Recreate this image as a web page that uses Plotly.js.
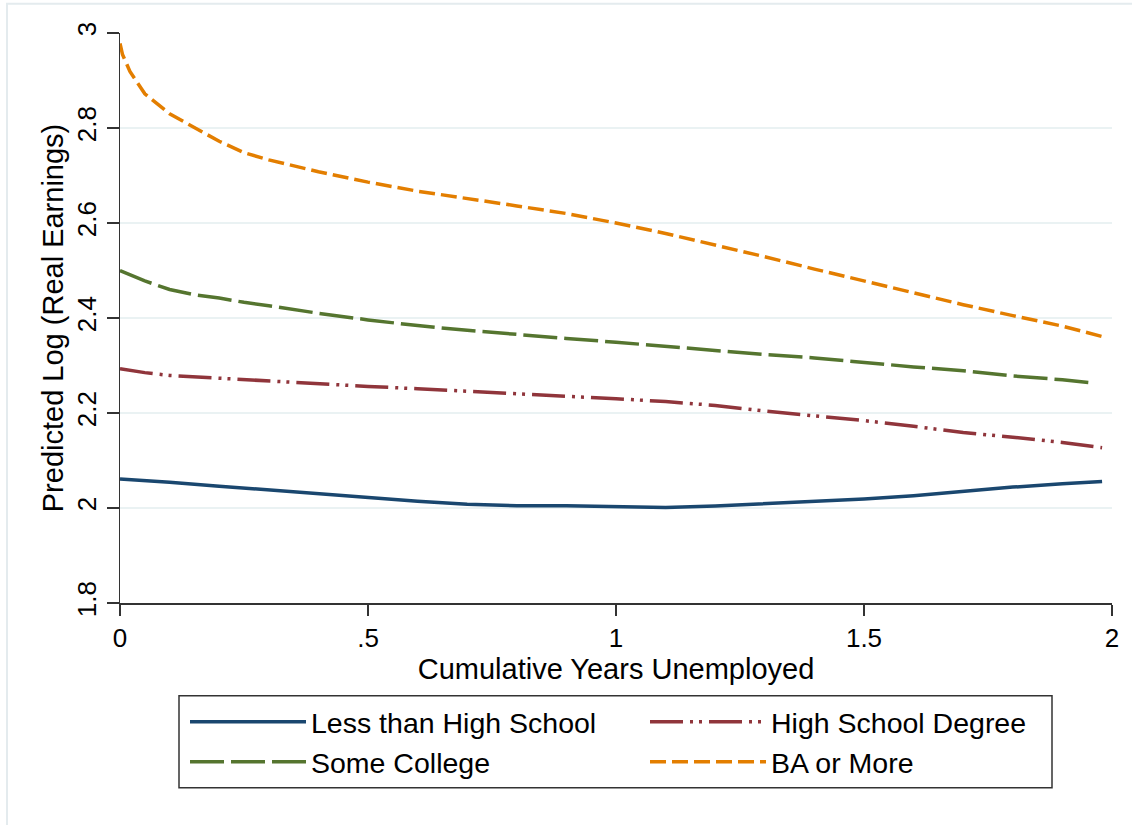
<!DOCTYPE html>
<html>
<head>
<meta charset="utf-8">
<script src="https://cdn.plot.ly/plotly-3.0.1.min.js"></script>
<style>
  html, body { margin: 0; padding: 0; background: #ffffff; }
  #chart { width: 1132px; height: 825px; }
</style>
</head>
<body>
<div id="chart"></div>
<script>
// ---- Data ----
var seriesNames = ["Less than High School", "High School Degree", "Some College", "BA or More"];

var xLess = [0, 0.05, 0.1, 0.2, 0.3, 0.4, 0.5, 0.6, 0.7, 0.8, 0.9, 1.0, 1.1, 1.2, 1.3, 1.4, 1.5, 1.6, 1.7, 1.8, 1.9, 1.98];
var yLess = [2.061, 2.058, 2.054, 2.046, 2.038, 2.030, 2.022, 2.014, 2.008, 2.005, 2.005, 2.003, 2.001, 2.004, 2.009, 2.014, 2.019, 2.026, 2.035, 2.044, 2.051, 2.056];

var xHS = [0, 0.05, 0.1, 0.2, 0.3, 0.4, 0.5, 0.6, 0.7, 0.8, 0.9, 1.0, 1.1, 1.2, 1.3, 1.4, 1.5, 1.6, 1.7, 1.8, 1.9, 1.98];
var yHS = [2.293, 2.285, 2.279, 2.273, 2.267, 2.261, 2.256, 2.251, 2.246, 2.241, 2.235, 2.230, 2.224, 2.216, 2.204, 2.194, 2.184, 2.172, 2.159, 2.149, 2.138, 2.127];

var xSome = [0, 0.05, 0.1, 0.15, 0.2, 0.25, 0.3, 0.4, 0.5, 0.6, 0.7, 0.8, 0.9, 1.0, 1.1, 1.2, 1.3, 1.4, 1.5, 1.6, 1.7, 1.8, 1.9, 1.962];
var ySome = [2.500, 2.478, 2.460, 2.449, 2.442, 2.433, 2.426, 2.410, 2.396, 2.384, 2.374, 2.365, 2.357, 2.349, 2.340, 2.332, 2.323, 2.316, 2.306, 2.297, 2.289, 2.278, 2.270, 2.263];

var xBA = [0, 0.005, 0.02, 0.05, 0.1, 0.15, 0.2, 0.25, 0.3, 0.4, 0.5, 0.6, 0.7, 0.8, 0.9, 1.0, 1.1, 1.2, 1.3, 1.4, 1.5, 1.6, 1.7, 1.8, 1.9, 1.98];
var yBA = [2.978, 2.955, 2.919, 2.872, 2.830, 2.800, 2.772, 2.748, 2.733, 2.708, 2.686, 2.667, 2.652, 2.636, 2.620, 2.600, 2.578, 2.554, 2.529, 2.503, 2.478, 2.453, 2.428, 2.405, 2.383, 2.361];

var xTickVals = [0, 0.5, 1, 1.5, 2];
var xTickText = ["0", ".5", "1", "1.5", "2"];
var yTickVals = [1.8, 2.0, 2.2, 2.4, 2.6, 2.8, 3.0];
var yTickText = ["1.8", "2", "2.2", "2.4", "2.6", "2.8", "3"];

var xTitle = "Cumulative Years Unemployed";
var yTitle = "Predicted Log (Real Earnings)";

// ---- Styles ----
var FONT = "Liberation Sans, Arial, Helvetica, sans-serif";
var LW = 3.5;

var traces = [
  { x: xLess, y: yLess, name: seriesNames[0], type: "scatter", mode: "lines",
    line: { color: "#1a476f", width: LW, dash: "solid" } },
  { x: xHS, y: yHS, name: seriesNames[1], type: "scatter", mode: "lines",
    line: { color: "#90353b", width: LW, dash: "33px,7px,3px,6px,3px,7px" } },
  { x: xSome, y: ySome, name: seriesNames[2], type: "scatter", mode: "lines",
    line: { color: "#55752f", width: LW, dash: "34px,7px" } },
  { x: xBA, y: yBA, name: seriesNames[3], type: "scatter", mode: "lines",
    line: { color: "#e37e00", width: LW, dash: "16px,6px" } }
];

var plotL = 120, plotR = 1112, plotT = 33.3, plotB = 603.3;
var pw = plotR - plotL, ph = plotB - plotT;
function px2paperX(p) { return (p - plotL) / pw; }
function px2paperY(p) { return (plotB - p) / ph; }

var ITEMW = 116;
var TEXTGAP = ITEMW + 10;
var COLPITCH = 460;

var layout = {
  width: 1132,
  height: 825,
  paper_bgcolor: "#ffffff",
  plot_bgcolor: "#ffffff",
  margin: { l: plotL, r: 1132 - plotR, t: plotT, b: 825 - plotB, pad: 0 },
  font: { family: FONT, color: "#000000", size: 26 },
  showlegend: true,
  xaxis: {
    range: [0, 2],
    tickmode: "array",
    tickvals: xTickVals,
    ticktext: xTickText,
    ticks: "outside",
    ticklen: 11,
    tickwidth: 1.5,
    tickcolor: "#333333",
    showline: true,
    linecolor: "#333333",
    linewidth: 1.5,
    showgrid: false,
    zeroline: false,
    tickfont: { family: FONT, size: 26, color: "#000000" },
    title: { text: xTitle, font: { family: FONT, size: 29, color: "#000000" }, standoff: 3 },
    automargin: false
  },
  yaxis: {
    range: [1.8, 3.0],
    tickmode: "array",
    tickvals: yTickVals,
    ticktext: yTickText,
    tickangle: -90,
    ticks: "outside",
    ticklen: 12,
    tickwidth: 1.5,
    tickcolor: "#333333",
    showline: true,
    linecolor: "#333333",
    linewidth: 1.5,
    showgrid: true,
    gridcolor: "#eaf2f3",
    gridwidth: 2,
    zeroline: false,
    tickfont: { family: FONT, size: 26, color: "#000000" },
    title: { text: yTitle, font: { family: FONT, size: 29, color: "#000000" }, standoff: 0 },
    automargin: false
  },
  legend: {
    orientation: "h",
    x: px2paperX(185),
    xanchor: "left",
    y: px2paperY(697),
    yanchor: "top",
    bgcolor: "rgba(0,0,0,0)",
    borderwidth: 0,
    font: { family: FONT, size: 28.5, color: "#000000" },
    itemwidth: ITEMW,
    entrywidth: COLPITCH - TEXTGAP - 5,
    entrywidthmode: "pixels",
    traceorder: "normal",
    itemclick: false,
    itemdoubleclick: false
  },
  shapes: [
    { type: "rect", xref: "paper", yref: "paper",
      x0: px2paperX(7), x1: px2paperX(1150), y0: px2paperY(840), y1: px2paperY(4),
      line: { color: "#e4ebee", width: 2 }, fillcolor: "rgba(0,0,0,0)", layer: "below" },
    { type: "rect", xref: "paper", yref: "paper",
      x0: px2paperX(179), x1: px2paperX(1052), y0: px2paperY(788), y1: px2paperY(696),
      line: { color: "#333333", width: 1.5 }, fillcolor: "rgba(0,0,0,0)", layer: "above" }
  ]
};

Plotly.newPlot("chart", traces, layout, { displayModeBar: false, staticPlot: true });
</script>
</body>
</html>
